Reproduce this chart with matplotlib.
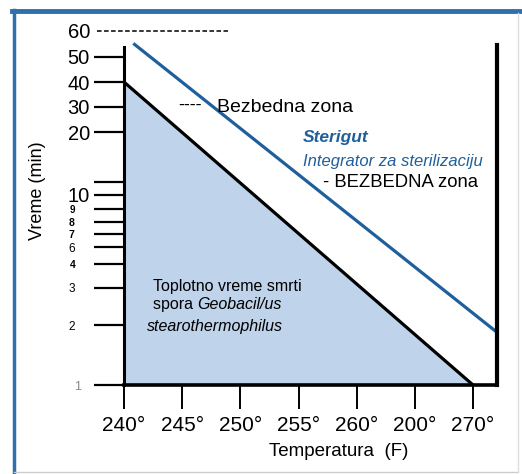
import matplotlib
matplotlib.use('Agg')
import matplotlib.pyplot as plt
import numpy as np
from matplotlib.lines import Line2D
from matplotlib.ticker import NullLocator

plt.rcParams['font.family'] = ['Liberation Sans', 'DejaVu Sans']

# Data
temp_ticks = [240, 245, 250, 255, 260, 265, 270]
temp_labels = ['240°', '245°', '250°', '255°', '260°', '200°', '270°']
time_ticks = [1, 2, 3, 4, 6, 7, 8, 9, 10, 11.5, 20, 30, 40, 50, 60]
time_labels = ['1', '2', '3', '4', '6', '7', '8', '9', '10', '', '20', '30', '40', '50', '60']

# death time of spores (black line, shaded below)
kill_temp = [240, 270]
kill_time = [40, 1]
# Sterigut integrator line (blue)
steri_temp = [240.8, 272.0]
steri_time = [55, 1.85]

# hand drawn y axis is not a clean log scale: knots of the drawn axis (px above the 1 line)
knot_vals = np.log(np.array(time_ticks, dtype=float))
knot_pos = np.array([0, 60, 97, 121, 138, 151, 163, 176, 190, 203, 253, 278, 303, 328, 354], dtype=float)


def fwd(v):
    v = np.clip(np.asarray(v, dtype=float), 1e-9, None)
    return np.interp(np.log(v), knot_vals, knot_pos)


def inv(p):
    return np.exp(np.interp(np.asarray(p, dtype=float), knot_pos, knot_vals))


W, H = 522, 474
fig = plt.figure(figsize=(W / 100, H / 100), dpi=100)
ax = fig.add_axes([124 / W, 89 / H, 373 / W, 354 / H])

ax.set_yscale('function', functions=(fwd, inv))
ax.set_xlim(240, 272.06)
ax.set_ylim(1, 60)

blue = '#1f5f9c'
ax.fill_between(kill_temp, kill_time, 1, color='#bfd3ea', lw=0)
ax.plot(kill_temp, kill_time, color='black', lw=2.3, solid_capstyle='butt')
ax.plot(steri_temp, steri_time, color=blue, lw=2.3, solid_capstyle='butt')

# frame of the drawing
ax.spines['top'].set_visible(False)
ax.spines['left'].set_bounds(1, 53.6)
ax.spines['right'].set_bounds(1, 54.3)
ax.spines['left'].set_linewidth(2.2)
ax.spines['right'].set_linewidth(3)
ax.spines['bottom'].set_linewidth(2.6)

ax.set_xticks(temp_ticks)
ax.set_xticklabels(temp_labels, fontsize=15)
ax.tick_params(axis='x', direction='out', length=17, width=1.4, pad=5)

ax.set_yticks(time_ticks)
ylabels = ax.set_yticklabels(time_labels)
ax.yaxis.set_minor_locator(NullLocator())
ax.tick_params(axis='y', direction='out', length=21.5, width=1.6)

small = {'1': (9, 'normal', '#888888', 9.5), '2': (8.5, 'normal', 'black', 13.5),
         '3': (8.5, 'normal', 'black', 13.5), '4': (7.5, 'bold', 'black', 13.5),
         '6': (8.5, 'normal', 'black', 13.5), '7': (7.5, 'bold', 'black', 14),
         '8': (7.5, 'bold', 'black', 14), '9': (7, 'bold', 'black', 14)}
for tick, lab in zip(ax.yaxis.get_major_ticks(), ylabels):
    s = lab.get_text()
    if s in small:
        fs, fw, col, pad = small[s]
        lab.set_fontsize(fs)
        lab.set_fontweight(fw)
        lab.set_color(col)
        tick.set_pad(pad)
    else:
        lab.set_fontsize(14.5)
        tick.set_pad(3)
    if s == '60':
        tick.tick1line.set_markersize(0)

# dashed line at 60
ax.plot([237.7, 248.9], [60, 60], color='black', lw=1.1, ls=(0, (3, 1.6)), clip_on=False)

# annotations
ax.text(0.145, 0.79, '----', transform=ax.transAxes, fontsize=13, va='center', ha='left')
ax.text(0.249, 0.785, 'Bezbedna zona', transform=ax.transAxes, fontsize=14, va='center', ha='left')
ax.text(0.48, 0.70, 'Sterigut', transform=ax.transAxes, fontsize=12.5, va='center', ha='left',
        color=blue, fontweight='bold', fontstyle='italic')
ax.text(0.48, 0.63, 'Integrator za sterilizaciju', transform=ax.transAxes, fontsize=12,
        va='center', ha='left', color=blue, fontstyle='italic')
ax.text(0.533, 0.573, '- BEZBEDNA zona', transform=ax.transAxes, fontsize=13.3, va='center', ha='left')
ax.text(0.078, 0.277, 'Toplotno vreme smrti', transform=ax.transAxes, fontsize=11.5, va='center', ha='left')
t = ax.text(0.078, 0.216, 'spora ', transform=ax.transAxes, fontsize=11.5, va='baseline', ha='left')
ax.annotate('Geobacil/us', xy=(1, 0), xycoords=t, fontsize=11.5, va='bottom', ha='left',
            fontstyle='italic')
ax.text(0.062, 0.164, 'stearothermophilus', transform=ax.transAxes, fontsize=11.5, va='center',
        ha='left', fontstyle='italic')

fig.text(339 / W, 1 - 451 / H, 'Temperatura  (F)', fontsize=13.5, ha='center', va='center')
fig.text(38 / W, 1 - 191 / H, 'Vreme (min)', fontsize=13, ha='center', va='center', rotation=90)

# outer border of the picture
fig.add_artist(Line2D([12 / W, 1], [1 - 11 / H, 1 - 11 / H], color='#2f6fae', lw=3.5))
fig.add_artist(Line2D([14 / W, 14 / W], [1 - 10 / H, 1 - 472 / H], color='#2f6fae', lw=2.5))
fig.add_artist(Line2D([14 / W, 518 / W], [1 - 472 / H, 1 - 472 / H], color='#cccccc', lw=1))
fig.add_artist(Line2D([518 / W, 518 / W], [1 - 13 / H, 1 - 472 / H], color='#dddddd', lw=1))

fig.savefig('out.png', dpi=100)
